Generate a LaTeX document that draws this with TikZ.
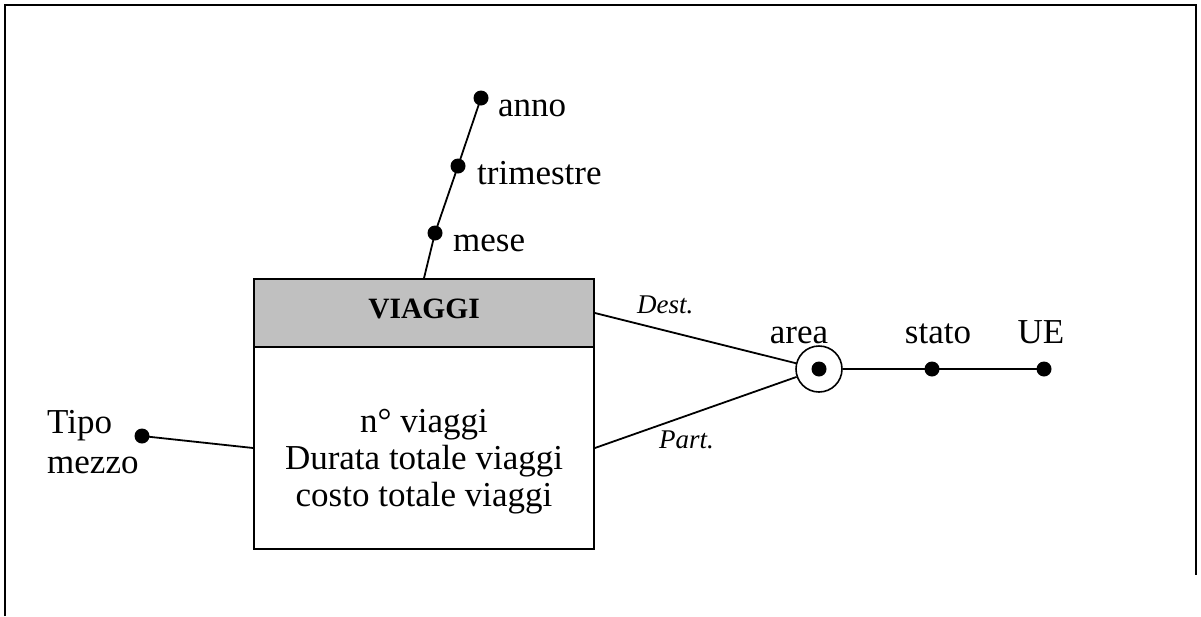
\documentclass[tikz,border=0pt]{standalone}
\usepackage{fontspec}
\setmainfont{Liberation Serif}
\definecolor{hdrgray}{RGB}{192,192,192}
\begin{document}
\begin{tikzpicture}[x=1pt,y=-1pt,
  conn/.style={line width=1.8pt},
  dotnode/.style={circle,fill=black,inner sep=0pt,minimum size=15pt},
  lbl/.style={inner sep=0pt,font=\fontsize{35}{38}\selectfont},
  rolelbl/.style={inner sep=0pt,font=\fontsize{27}{30}\selectfont\itshape},
  boxpart/.style={draw,line width=1.8pt,inner sep=0pt,minimum width=340pt}]
\useasboundingbox (0,0) rectangle (1201,616);
% frame
\draw[line width=1.8pt] (5,616) -- (5,5) -- (1196,5) -- (1196,575);
% fact box
\node[boxpart,fill=hdrgray,minimum height=68pt] (hdr) at (424,313) {};
\node[boxpart,minimum height=202pt] (body) at (424,448) {};
\node[inner sep=0pt,anchor=base,font=\fontsize{29.5}{32}\selectfont\bfseries] (title) at (424,318) {VIAGGI};
\node[lbl,anchor=base] (m1) at (424,432) {n° viaggi};
\node[lbl,anchor=base] (m2) at (424,469) {Durata totale viaggi};
\node[lbl,anchor=base] (m3) at (424,506) {costo totale viaggi};
% time hierarchy
\node[dotnode] (mese) at (435,233) {};
\node[dotnode] (trim) at (458,166) {};
\node[dotnode] (anno) at (481,98) {};
\draw[conn] (hdr.north) -- (mese.center) -- (trim.center) -- (anno.center);
\node[lbl,anchor=base west] (lanno) at (498,116) {anno};
\node[lbl,anchor=base west] (ltrim) at (477,184) {trimestre};
\node[lbl,anchor=base west] (lmese) at (453,251) {mese};
% tipo mezzo
\node[dotnode] (tipo) at (142,436) {};
\draw[conn] (tipo.center) -- (body.west);
\node[lbl,anchor=base west] (ltipo) at (47,433) {Tipo};
\node[lbl,anchor=base west] (lmezzo) at (47,473) {mezzo};
% area hierarchy
\node[circle,draw,line width=1.6pt,minimum size=46pt,inner sep=0pt] (area) at (819,369) {};
\node[dotnode,minimum size=15pt] (areadot) at (area.center) {};
\node[dotnode] (stato) at (932,369) {};
\node[dotnode] (ue) at (1044,369) {};
\draw[conn] (hdr.east) -- (area);
\draw[conn] (body.east) -- (area);
\draw[conn] (area) -- (stato.center) -- (ue.center);
\node[lbl,anchor=base] (larea) at (799,343) {area};
\node[lbl,anchor=base] (lstato) at (938,343) {stato};
\node[lbl,anchor=base] (lue) at (1041,343) {UE};
\node[rolelbl,anchor=base west] (ldest) at (637,313) {Dest.};
\node[rolelbl,anchor=base west] (lpart) at (659,448) {Part.};
\end{tikzpicture}
\end{document}
